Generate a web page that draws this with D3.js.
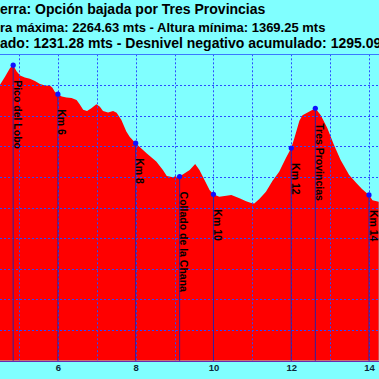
<!DOCTYPE html>
<html>
<head>
<meta charset="utf-8">
<script src="https://cdn.jsdelivr.net/npm/d3@7"></script>
<style>
  html, body { margin: 0; padding: 0; background: #80ffff; overflow: hidden; }
  svg { display: block; }
</style>
</head>
<body>
<svg id="chart" width="379" height="379"></svg>
<script>
// ---- Data ----
const titleLines = [
  "erra: Opción bajada por Tres Provincias",
  "ra máxima: 2264.63 mts - Altura mínima: 1369.25 mts",
  "ado: 1231.28 mts - Desnivel negativo acumulado: 1295.09 mts"
];
const titleSizes = [14, 13, 14];
const distanceKm = [4.51, 4.64, 4.77, 4.85, 4.94, 5.03, 5.15, 5.28, 5.41, 5.54, 5.67, 5.80, 5.86, 5.92, 6.00,
  6.10, 6.22, 6.35, 6.48, 6.56, 6.65, 6.75, 6.86, 6.99, 7.08, 7.16, 7.29, 7.42, 7.51, 7.63, 7.76, 7.85, 8.00,
  8.28, 8.53, 8.70, 8.80, 8.96, 9.03, 9.08, 9.13, 9.26, 9.39, 9.53, 9.64, 9.77, 9.90, 10.00,
  10.15, 10.33, 10.46, 10.67, 10.84, 10.97, 11.05, 11.18, 11.35, 11.52, 11.69, 11.86, 12.00,
  12.08, 12.21, 12.29, 12.42, 12.55, 12.62, 12.76, 12.93, 13.10, 13.27, 13.49, 13.68, 13.82, 14.00,
  14.09, 14.25];
const elevationM = [2200, 2227, 2255, 2264.63, 2244, 2231, 2224, 2220, 2213, 2203, 2198, 2197, 2191, 2178, 2170,
  2162, 2159, 2157, 2151, 2137, 2119, 2115, 2124, 2137, 2129, 2115, 2110, 2115, 2109, 2086, 2048, 2030, 2010,
  1977, 1950, 1922, 1903, 1899, 1903, 1896, 1901, 1912, 1922, 1942, 1922, 1890, 1857, 1843,
  1835, 1838, 1841, 1830, 1820, 1815, 1813, 1828, 1851, 1887, 1917, 1961, 1994,
  2026, 2083, 2101, 2110, 2119, 2124, 2101, 2059, 2004, 1955, 1906, 1879, 1860, 1841,
  1824, 1819];
const markerNames = ["Pico del Lobo", "Km 6", "Km 8", "Collado de la Chana", "Km 10", "Km 12", "Tres Provincias", "Km 14"];
const markerKm = [4.85, 6, 8, 9.13, 10, 12, 12.62, 14];
const markerElev = [2264.63, 2170, 2010, 1901, 1843, 1994, 2124, 1841];
const xTickValues = [6, 8, 10, 12, 14];
const xGridValues = [5, 6, 7, 8, 9, 10, 11, 12, 13, 14];
const yGridValues = [1400, 1500, 1600, 1700, 1800, 1900, 2000, 2100, 2200];
const yDomain = [1300, 2300];

// ---- Drawing ----
const W = 379, H = 379;
const svg = d3.select("#chart");
const x = d3.scaleLinear().domain([5, 14]).range([19, 369]);
const y = d3.scaleLinear().domain(yDomain).range([360.7, 54.3]);

svg.append("rect").attr("x", 0).attr("y", 0).attr("width", W).attr("height", H).attr("fill", "#80ffff");

const profile = distanceKm.map((d, i) => ({ km: d, e: elevationM[i] }));

svg.append("clipPath").attr("id", "plotclip")
  .append("rect").attr("x", 0).attr("y", y(yDomain[1])).attr("width", W).attr("height", y(yDomain[0]) - y(yDomain[1]));

const plot = svg.append("g").attr("clip-path", "url(#plotclip)");

plot.append("path")
  .datum(profile)
  .attr("fill", "#ff0000")
  .attr("d", d3.area().x(d => x(d.km)).y0(y(yDomain[0])).y1(d => y(d.e)));

// grid
plot.selectAll("line.vg").data(xGridValues).join("line")
  .attr("class", "vg")
  .attr("x1", d => Math.round(x(d)) + 0.5).attr("x2", d => Math.round(x(d)) + 0.5)
  .attr("y1", y(yDomain[1])).attr("y2", y(yDomain[0]))
  .attr("stroke", "#2a4cff").attr("stroke-width", 1).attr("stroke-dasharray", "2,2");
plot.selectAll("line.hg").data(yGridValues).join("line")
  .attr("class", "hg")
  .attr("x1", 0).attr("x2", W)
  .attr("y1", d => Math.round(y(d)) + 0.5).attr("y2", d => Math.round(y(d)) + 0.5)
  .attr("stroke", "#2a4cff").attr("stroke-width", 1).attr("stroke-dasharray", "2,2");

// top border and bottom axis line
svg.append("line").attr("x1", 0).attr("x2", W)
  .attr("y1", Math.round(y(yDomain[1])) + 0.5).attr("y2", Math.round(y(yDomain[1])) + 0.5)
  .attr("stroke", "#3a78ff").attr("stroke-width", 1);
svg.append("line").attr("x1", 0).attr("x2", W)
  .attr("y1", Math.round(y(yDomain[0])) + 0.5).attr("y2", Math.round(y(yDomain[0])) + 0.5)
  .attr("stroke", "#6a2ab0").attr("stroke-width", 1);

// markers
const markers = markerNames.map((n, i) => ({ name: n, km: markerKm[i], e: markerElev[i] }));
const mg = svg.append("g");
mg.selectAll("line").data(markers).join("line")
  .attr("x1", d => x(d.km)).attr("x2", d => x(d.km))
  .attr("y1", d => y(d.e)).attr("y2", y(yDomain[0]))
  .attr("stroke", "#3020a0").attr("stroke-width", 1);
mg.selectAll("circle").data(markers).join("circle")
  .attr("cx", d => x(d.km)).attr("cy", d => y(d.e)).attr("r", 2.6)
  .attr("fill", "#1010ff");
mg.selectAll("text").data(markers).join("text")
  .attr("transform", d => `translate(${x(d.km) + 0.5},${y(d.e) + 15}) rotate(90)`)
  .attr("font-family", "Liberation Sans, Arial, sans-serif")
  .attr("font-weight", "bold").attr("font-size", 10.5)
  .attr("fill", "#000")
  .text(d => d.name);

// x axis labels
const xAxis = d3.axisBottom(x).tickValues(xTickValues).tickSize(0).tickPadding(0).tickFormat(d3.format("d"));
const ax = svg.append("g").attr("transform", `translate(0,${y(yDomain[0])})`).call(xAxis);
ax.select(".domain").remove();
ax.selectAll("text")
  .attr("y", 10).attr("dy", 0)
  .attr("font-family", "Liberation Sans, Arial, sans-serif")
  .attr("font-weight", "bold").attr("font-size", 9.5)
  .attr("fill", "#0a2a3a");

// title
svg.selectAll("text.title").data(titleLines).join("text")
  .attr("class", "title")
  .attr("x", 0).attr("y", (d, i) => [14, 31.5, 48][i])
  .attr("font-family", "Liberation Sans, Arial, sans-serif")
  .attr("font-weight", "bold").attr("font-size", (d, i) => titleSizes[i])
  .attr("fill", "#000")
  .text(d => d);
</script>
</body>
</html>
